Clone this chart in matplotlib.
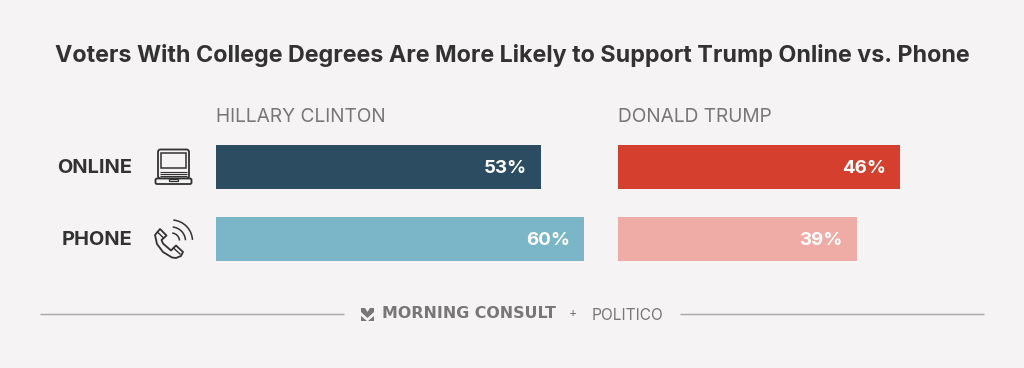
import matplotlib
matplotlib.use("Agg")
import matplotlib.pyplot as plt
from matplotlib.patches import FancyBboxPatch, Polygon, Arc, Rectangle

W, H = 1024, 368
BG = "#f5f3f4"
DARK = "#323232"
GREY = "#777777"

title = "Voters With College Degrees Are More Likely to Support Trump Online vs. Phone"
modes = ["ONLINE", "PHONE"]
clinton = [53, 60]
trump = [46, 39]
clinton_colors = ["#2b4c61", "#7ab6c8"]
trump_colors = ["#d53f2d", "#efaca7"]

plt.rcParams["font.family"] = ["Inter", "DejaVu Sans"]
fig = plt.figure(figsize=(W / 100, H / 100), dpi=100, facecolor=BG)

bg = fig.add_axes([0, 0, 1, 1])
bg.set_xlim(0, W)
bg.set_ylim(H, 0)
bg.axis("off")


def bar_panel(left, values, colors, head):
    px_per_pct = 6.14
    ax = fig.add_axes([left / W, 1 - 261 / H, 70 * px_per_pct / W, (261 - 145) / H])
    ax.axis("off")
    ax.set_xlim(0, 70)
    ax.set_ylim(1 + 22 / 72, -22 / 72)
    ax.barh(range(len(values)), values, height=44 / 72, color=colors, linewidth=0)
    for i, v in enumerate(values):
        ax.text(v - 2.4, i + 0.015, f"{v}%", color="white", fontsize=13.5, fontweight="bold",
                ha="right", va="center")
    bg.text(left, 117, head, color=GREY, fontsize=13.8, ha="left", va="center")


bar_panel(216, clinton, clinton_colors, "HILLARY CLINTON")
bar_panel(618, trump, trump_colors, "DONALD TRUMP")

bg.text(512.5, 55.5, title, color=DARK, fontsize=16.75, fontweight="bold", ha="center", va="center")
for y, m in zip([168, 240], modes):
    bg.text(132, y, m, color=DARK, fontsize=14.4, fontweight="bold", ha="right", va="center")

# laptop icon
lw = 1.3
bg.add_patch(FancyBboxPatch((158, 149.5), 31, 29, boxstyle="round,pad=0,rounding_size=2.5", fill=False, ec=DARK, lw=lw))
bg.add_patch(Rectangle((161, 153), 25, 15, fill=False, ec=DARK, lw=1.1))
bg.add_patch(FancyBboxPatch((155.5, 178.5), 36, 5.5, boxstyle="round,pad=0,rounding_size=1.5", fc=BG, ec=DARK, lw=lw))
for ky in [171.5, 173.8, 176.2]:
    bg.plot([160, 187], [ky, ky], color=DARK, lw=0.8, solid_capstyle="butt")
bg.add_patch(Rectangle((169, 179), 9, 2.4, fill=False, ec=DARK, lw=0.9))

# phone icon
phone_x = [155, 160, 166.5, 161.5, 163, 171, 176, 183, 181, 176, 172, 163, 157, 155]
phone_y = [235, 229, 235.5, 240, 243.5, 250.5, 245.5, 252, 256, 258, 257.5, 252, 244, 235]
bg.add_patch(Polygon(list(zip(phone_x, phone_y)), closed=True, fill=False, ec=DARK, lw=1.3, joinstyle="round"))
bg.plot([157.5, 163.5], [232, 238], color=DARK, lw=1.0)
bg.plot([173.5, 180], [248, 254], color=DARK, lw=1.0)
for r in [8, 14, 21]:
    bg.add_patch(Arc((171.5, 241), 2 * r, 2 * r, theta1=-85, theta2=-3, ec=DARK, lw=1.1))

# footer
bg.plot([40, 344], [314, 314], color="#a6a6a6", lw=1, solid_capstyle="butt")
bg.plot([680, 984], [314, 314], color="#a6a6a6", lw=1, solid_capstyle="butt")
bg.add_patch(Polygon([(361, 308), (365, 308), (367.5, 312), (370, 308), (374, 308), (374, 312), (367.5, 318), (361, 312)],
                     closed=True, fc=GREY, ec="none"))
bg.add_patch(Polygon([(361, 316), (367, 321), (361, 321)], closed=True, fc=GREY, ec="none"))
bg.add_patch(Polygon([(374, 316), (368, 321), (374, 321)], closed=True, fc=GREY, ec="none"))
bg.text(382, 314, "MORNING CONSULT", color=GREY, fontsize=11.4, fontweight="bold",
        family=["DejaVu Sans"], ha="left", va="center")
bg.text(572.5, 314.5, "+", color=GREY, fontsize=9, ha="center", va="center")
bg.text(592, 315, "POLITICO", color=GREY, fontsize=11.2, ha="left", va="center")

fig.savefig("out.png", dpi=100, facecolor=BG)
